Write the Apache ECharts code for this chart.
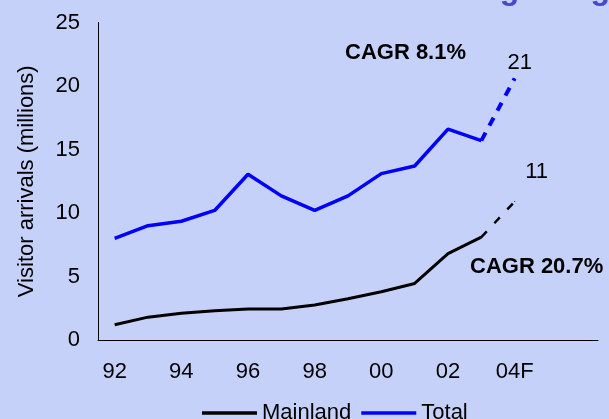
<!DOCTYPE html>
<html>
	<head>
		<meta charset="utf-8" />
		<title>Visitor arrivals</title>
		<script src="https://cdn.jsdelivr.net/npm/echarts@6/dist/echarts.min.js"></script>
		<style>
			* {
				margin: 0;
				padding: 0;
			}
			body {
				background: #c6d1f9;
			}
		</style>
	</head>
	<body>
		<div id="main" style="width: 609px; height: 419px"></div>
		<script>
			// years (labels shown every other one)
			var years = ['92', '93', '94', '95', '96', '97', '98', '99', '00', '01', '02', '03', '04F', '', ''];
			// millions of visitors, actual
			var total = [8.0, 9.0, 9.35, 10.2, 13.05, 11.35, 10.2, 11.35, 13.1, 13.7, 16.6, 15.7];
			var mainland = [1.2, 1.8, 2.1, 2.3, 2.45, 2.45, 2.75, 3.25, 3.8, 4.45, 6.8, 8.1];
			// forecast: 03 -> 04F
			var totalFc = [15.7, 20.6];
			var mainlandFc = [8.1, 10.9];
			var fcStart = 11;

			function pad(arr, start) {
				var out = [];
				for (var i = 0; i < years.length; i++) {
					var v = arr[i - start];
					out.push(v === undefined ? null : v);
				}
				return out;
			}

			var font = 'Arial, "Liberation Sans", sans-serif';
			var lineIcon = 'path://M0,0 L100,0 L100,6 L0,6 Z';
			var myChart = echarts.init(document.getElementById('main'));
			var option = {
				backgroundColor: '#c6d1f9',
				textStyle: {fontFamily: font},
				title: {
					text: 'Mainland visitor arrivals in Hong Kong',
					left: 20,
					top: -30.5,
					textStyle: {fontSize: 32, fontWeight: 'bold', color: '#4848c8', fontFamily: font},
				},
				grid: {left: 98, right: 11, top: 22.5, bottom: 79},
				legend: {
					data: [
						{name: 'Mainland', icon: lineIcon},
						{name: 'Total', icon: lineIcon},
					],
					left: 197,
					top: 397,
					itemWidth: 55,
					itemHeight: 4,
					itemGap: 10,
					textStyle: {fontSize: 22, color: '#000', fontFamily: font},
				},
				xAxis: {
					type: 'category',
					data: years,
					boundaryGap: true,
					axisLine: {lineStyle: {color: '#000', width: 1}},
					axisTick: {show: false},
					axisLabel: {interval: 1, fontSize: 22, color: '#000', margin: 21, fontFamily: font},
				},
				yAxis: {
					type: 'value',
					min: 0,
					max: 25,
					interval: 5,
					name: 'Visitor arrivals (millions)',
					nameLocation: 'middle',
					nameGap: 60,
					nameTextStyle: {fontSize: 22, color: '#000', fontFamily: font},
					axisLine: {show: true, lineStyle: {color: '#000', width: 1}},
					axisTick: {show: false},
					splitLine: {show: false},
					axisLabel: {fontSize: 22, color: '#000', margin: 18, fontFamily: font},
				},
				graphic: [
					{
						type: 'text',
						left: 345,
						top: 42,
						style: {text: 'CAGR 8.1%', font: 'bold 22px ' + font, fill: '#000'},
					},
					{
						type: 'text',
						left: 470,
						top: 256,
						style: {text: 'CAGR 20.7%', font: 'bold 22px ' + font, fill: '#000'},
					},
				],
				series: [
					{
						name: 'Mainland',
						type: 'line',
						data: mainland,
						symbol: 'none',
						color: '#000',
						lineStyle: {color: '#000', width: 3},
						z: 3,
					},
					{
						name: 'Total',
						type: 'line',
						data: total,
						symbol: 'none',
						color: '#0000ff',
						lineStyle: {color: '#0000ff', width: 3.5},
						z: 3,
					},
					{
						name: 'Mainland forecast',
						type: 'line',
						data: pad(mainlandFc, fcStart),
						symbol: 'circle',
						symbolSize: 1,
						color: '#000',
						lineStyle: {color: '#000', width: 2.5, type: [8, 11]},
						label: {
							show: true,
							position: 'inside',
							offset: [22, -30],
							fontSize: 22,
							color: '#000',
							fontFamily: font,
							formatter: function (p) {
								return p.dataIndex === fcStart + 1 ? String(Math.round(p.value)) : '';
							},
						},
					},
					{
						name: 'Total forecast',
						type: 'line',
						data: pad(totalFc, fcStart),
						symbol: 'circle',
						symbolSize: 1,
						color: '#0000ff',
						lineStyle: {color: '#0000ff', width: 4, type: [9, 8]},
						label: {
							show: true,
							position: 'inside',
							offset: [5, -15],
							fontSize: 22,
							color: '#000',
							fontFamily: font,
							formatter: function (p) {
								return p.dataIndex === fcStart + 1 ? String(Math.round(p.value)) : '';
							},
						},
					},
				],
			};
			option && myChart.setOption(option);
		</script>
	</body>
</html>
